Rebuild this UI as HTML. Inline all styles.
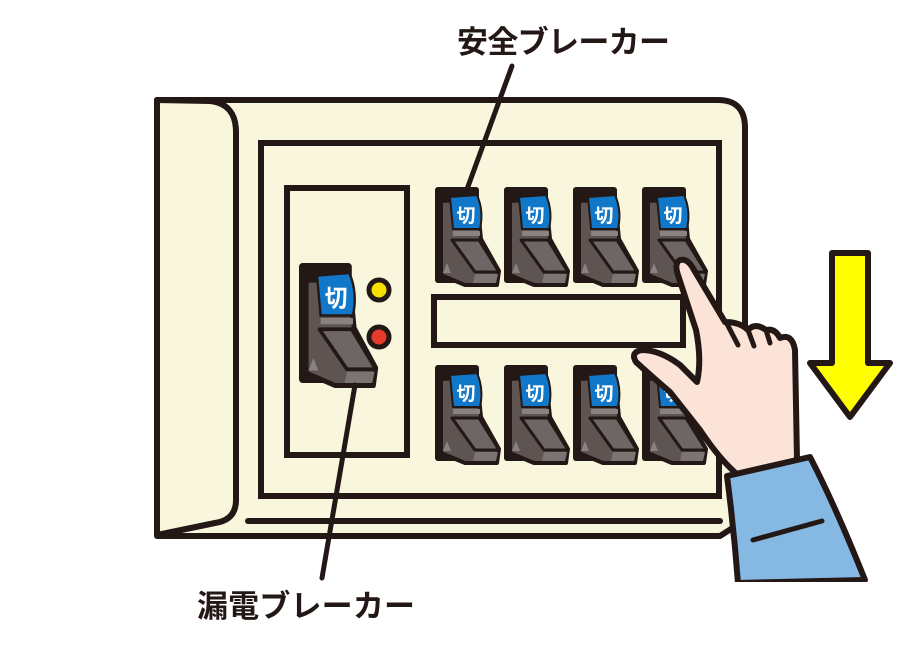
<!DOCTYPE html>
<html><head><meta charset="utf-8"><style>
html,body{margin:0;padding:0;background:#fff;width:900px;height:654px;overflow:hidden}
svg text{font-family:"Liberation Sans","Noto Sans CJK JP",sans-serif;font-weight:bold}
</style></head><body>
<svg width="900" height="654" viewBox="0 0 900 654" xmlns="http://www.w3.org/2000/svg">
<defs>
<g id="brk">
  <rect x="0" y="0" width="44" height="96" rx="3" fill="#231815"/>
  <polygon points="6,14 42,12 46,52 64,84 62,98 30,98 6,88" fill="#5e5553" stroke="#231815" stroke-width="4" stroke-linejoin="round"/>
  <path d="M15,10 L42,8 Q49,24 45,42 L18,42 Z" fill="#1177c8" stroke="#231815" stroke-width="2"/>
  <text x="31" y="35" font-size="19" fill="#fff" text-anchor="middle">切</text>
  <rect x="18" y="44" width="27" height="5" fill="#8a8280"/>
  <polygon points="17,53 44,53 64,85 40,85" fill="#6d6664" stroke="#231815" stroke-width="3" stroke-linejoin="round"/>
  <polygon points="40,87 63,87 61,96 38,96" fill="#7b7472"/>
  <polygon points="8,86 16,86 12,76" fill="#8a8280"/>
</g>
</defs>
<path d="M157,100 L718,100 Q745,100 745,128 L745,520 L720,536 L157,536 Z" fill="#f8f6dc" stroke="#231815" stroke-width="6" stroke-linejoin="round"/>
<path d="M157,100 L210,101 Q236,104 236,132 L236,500 Q236,520 215,523 L157,535 Z" fill="#f8f6dc" stroke="#231815" stroke-width="6" stroke-linejoin="round"/>
<rect x="261" y="143" width="458" height="353" fill="none" stroke="#231815" stroke-width="6"/>
<line x1="248" y1="521" x2="720" y2="521" stroke="#231815" stroke-width="6" stroke-linecap="round"/>
<rect x="287" y="188" width="120" height="267" fill="none" stroke="#231815" stroke-width="6"/>
<rect x="434" y="297" width="249" height="48" fill="#f8f6dc" stroke="#231815" stroke-width="6"/>
<use href="#brk" transform="translate(435,187)"/>
<use href="#brk" transform="translate(504,187)"/>
<use href="#brk" transform="translate(573,187)"/>
<use href="#brk" transform="translate(642,187)"/>
<use href="#brk" transform="translate(435,365)"/>
<use href="#brk" transform="translate(504,365)"/>
<use href="#brk" transform="translate(573,365)"/>
<use href="#brk" transform="translate(642,365)"/>
<use href="#brk" transform="translate(299,263) scale(1.2,1.25)"/>
<circle cx="379" cy="290" r="10" fill="#f5e000" stroke="#231815" stroke-width="5"/>
<circle cx="379" cy="337" r="10" fill="#e63a2a" stroke="#231815" stroke-width="5"/>
<line x1="512" y1="66" x2="466" y2="192" stroke="#231815" stroke-width="5" stroke-linecap="round"/>
<line x1="355" y1="385" x2="322" y2="578" stroke="#231815" stroke-width="5" stroke-linecap="round"/>
<text x="457" y="53" font-size="31" fill="#231815" textLength="213">安全ブレーカー</text>
<text x="197" y="617" font-size="31" fill="#231815" textLength="218">漏電ブレーカー</text>
<polygon points="832,253 868,253 868,363 890,363 850,417 810,363 832,363" fill="#ffff00" stroke="#231815" stroke-width="6" stroke-linejoin="round"/>
<path d="M680,260 Q688,258 694,270 L725,322 Q740,322 748,330 Q755,322 766,330 Q775,328 780,338 Q792,333 795,350 L797,460 L738,475 Q720,460 700,430 L670,392 Q650,375 636,362 Q630,352 642,350 Q660,350 680,365 L697,382 Q702,360 696,330 L678,275 Q674,263 680,260 Z" fill="#fbe3d7" stroke="#231815" stroke-width="6" stroke-linejoin="round"/>
<path d="M726,322 L738,345 M748,330 L754,346 M766,330 L770,343" stroke="#231815" stroke-width="5" stroke-linecap="round"/>
<path d="M727,476 L810,457 Q835,505 865,580 L738,583 Q734,530 727,476 Z" fill="#86b8e4" stroke="#231815" stroke-width="6" stroke-linejoin="round"/>
<line x1="753" y1="540" x2="822" y2="521" stroke="#231815" stroke-width="5" stroke-linecap="round"/>
<rect x="730" y="582" width="140" height="72" fill="#fff"/>
</svg>
</body></html>
